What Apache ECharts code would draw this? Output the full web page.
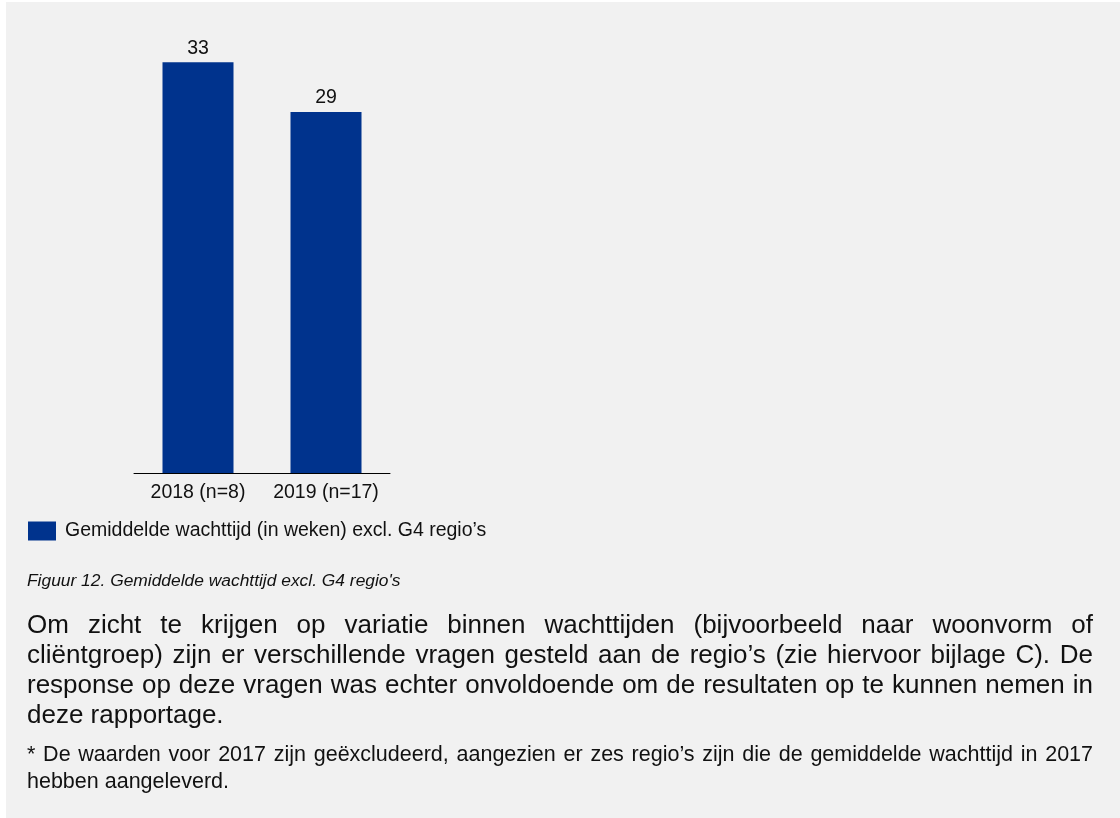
<!DOCTYPE html>
<html>
<head>
<meta charset="utf-8">
<script src="https://cdn.jsdelivr.net/npm/echarts@6/dist/echarts.min.js"></script>
<style>
  html, body { margin: 0; padding: 0; background: #ffffff; width: 1120px; height: 818px; overflow: hidden; }
  #chart { position: absolute; left: 6px; top: 2px; width: 1114px; height: 816px; background: #f1f1f1; }
  .txt { position: absolute; font-family: "Liberation Sans", Arial, sans-serif; color: #111; margin: 0; }
  #caption { left: 27px; top: 569px; font-size: 17.4px; line-height: 22px; font-style: italic; white-space: nowrap; }
  #body { left: 27px; top: 609px; width: 1066px; font-size: 26px; line-height: 30px; text-align: justify; }
  #foot { left: 27px; top: 741px; width: 1066px; font-size: 21.5px; line-height: 27px; text-align: justify; }
</style>
</head>
<body>
<div id="chart"></div>
<div class="txt" id="caption">Figuur 12. Gemiddelde wachttijd excl. G4 regio's</div>
<div class="txt" id="body">Om zicht te krijgen op variatie binnen wachttijden (bijvoorbeeld naar woonvorm of cliëntgroep) zijn er verschillende vragen gesteld aan de regio’s (zie hiervoor bijlage C). De response op deze vragen was echter onvoldoende om de resultaten op te kunnen nemen in deze rapportage.</div>
<div class="txt" id="foot">* De waarden voor 2017 zijn geëxcludeerd, aangezien er zes regio’s zijn die de gemiddelde wachttijd in 2017 hebben aangeleverd.</div>
<script>
const categories = ['2018 (n=8)', '2019 (n=17)'];
const seriesName = 'Gemiddelde wachttijd (in weken) excl. G4 regio’s';
const values = [33, 29];

const chart = echarts.init(document.getElementById('chart'), null, { renderer: 'canvas' });
const FONT = '"Liberation Sans", Arial, sans-serif';
chart.setOption({
  backgroundColor: '#f1f1f1',
  animation: false,
  textStyle: { fontFamily: FONT },
  grid: { left: 128, width: 256, top: 35.25, bottom: 345, containLabel: false },
  legend: {
    left: 22, top: 519, padding: 0,
    icon: 'rect', itemWidth: 28, itemHeight: 19,
    textStyle: { fontSize: 19.5, color: '#111', fontFamily: FONT, padding: [3, 0, 0, 4] },
    data: [seriesName]
  },
  xAxis: {
    type: 'category',
    data: categories,
    axisLine: { show: true, lineStyle: { color: '#000', width: 1 } },
    axisTick: { show: false },
    axisLabel: { interval: 0, fontSize: 19.5, color: '#111', margin: 10, fontFamily: FONT }
  },
  yAxis: {
    type: 'value', min: 0, max: 35, show: false,
    splitLine: { show: false }
  },
  series: [{
    name: seriesName,
    type: 'bar',
    data: values,
    barWidth: 71,
    itemStyle: { color: '#00338d' },
    label: { show: true, position: 'top', distance: 4, fontSize: 19.5, color: '#111', fontFamily: FONT }
  }]
});
</script>
</body>
</html>
